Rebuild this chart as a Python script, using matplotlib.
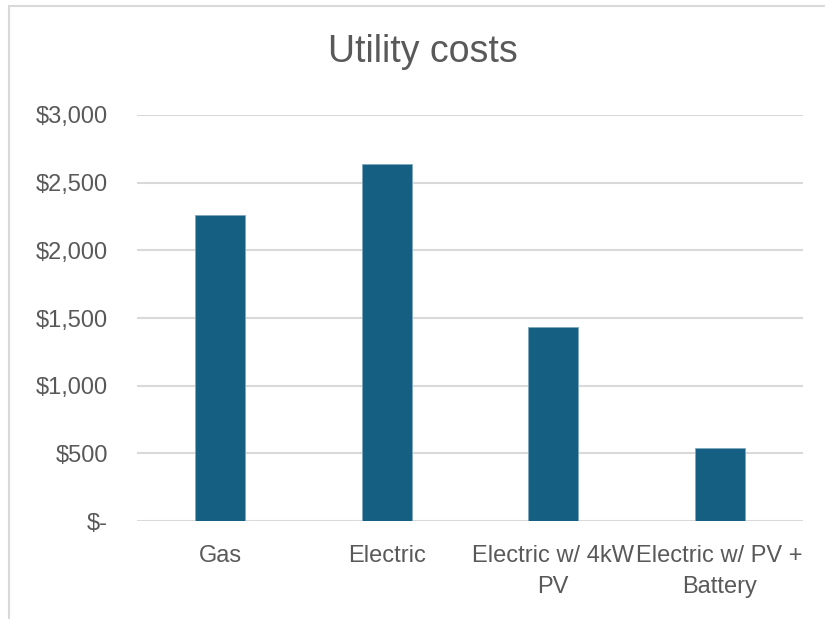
import matplotlib
matplotlib.use("Agg")
import matplotlib.pyplot as plt
from matplotlib.patches import Rectangle
import numpy as np

# data
categories = ["Gas", "Electric", "Electric w/ 4kW\nPV", "Electric w/ PV +\nBattery"]
costs = [2260, 2638, 1432, 540]
yticks = [0, 500, 1000, 1500, 2000, 2500, 3000]
ytick_labels = ["$-", "$500", "$1,000", "$1,500", "$2,000", "$2,500", "$3,000"]

bar_color = "#155F82"
text_color = "#595959"
grid_color = "#D9D9D9"

plt.rcParams["font.family"] = ["Liberation Sans", "DejaVu Sans"]

fig = plt.figure(figsize=(8.25, 6.19), dpi=100)
ax = fig.add_axes([137 / 825, 1 - 521 / 619, 666 / 825, 406 / 619])

x = np.arange(len(categories))
ax.bar(x, costs, width=0.30, color=bar_color, edgecolor="#7FA8BE", linewidth=0.6, zorder=3)

ax.set_xlim(-0.5, len(categories) - 0.5)
ax.set_ylim(0, 3000)
ax.set_yticks(yticks)
ax.set_yticklabels(ytick_labels, fontsize=17, color=text_color)
ax.set_xticks(x)
ax.set_xticklabels(categories, fontsize=17, color=text_color, linespacing=1.55)
ax.tick_params(axis="both", length=0)
ax.tick_params(axis="y", pad=21)
ax.tick_params(axis="x", pad=17)
ax.grid(axis="y", color=grid_color, linewidth=1.5, zorder=0)
for s in ax.spines.values():
    s.set_visible(False)

fig.text(423 / 825, 1 - 52 / 619, "Utility costs", ha="center", va="center",
         fontsize=27, color=text_color)

# chart frame (cropped at right and bottom)
fig.patches.append(Rectangle((9 / 825, -0.1), 1.2, 1 - 6 / 619 + 0.1,
                             transform=fig.transFigure, fill=False,
                             edgecolor="#D9D9D9", linewidth=1.5))

fig.savefig("out.png", dpi=100)
